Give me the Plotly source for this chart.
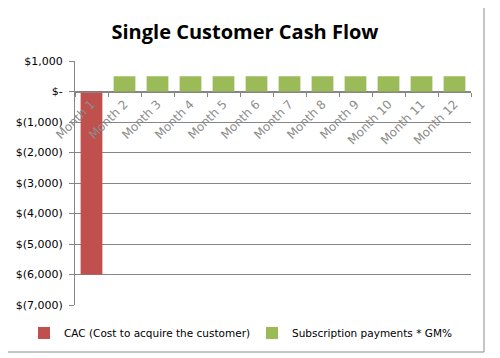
import plotly.graph_objects as go

months = ["Month 1", "Month 2", "Month 3", "Month 4", "Month 5", "Month 6",
          "Month 7", "Month 8", "Month 9", "Month 10", "Month 11", "Month 12"]
cac = [-6000, None, None, None, None, None, None, None, None, None, None, None]
subs = [None, 500, 500, 500, 500, 500, 500, 500, 500, 500, 500, 500]
ytickvals = [1000, 0, -1000, -2000, -3000, -4000, -5000, -6000, -7000]
yticktext = ["$1,000", "$-", "$(1,000)", "$(2,000)", "$(3,000)", "$(4,000)",
             "$(5,000)", "$(6,000)", "$(7,000)"]

# page body has an 8px margin; lay out in window pixels then shift
OFF = 8
W, H = 500 - OFF, 358 - OFF
PL, PR, PT, PB = 75, 471, 61, 305  # plot area in window pixels
L, R, T, B = PL - OFF, W - (PR - OFF), PT - OFF, H - (PB - OFF)
pw, ph = PR - PL, PB - PT

def px_x(x):
    return (x - PL) / pw

def px_y(y):
    return (PB - y) / ph

fig = go.Figure()
fig.add_trace(go.Bar(x=months, y=cac, name="CAC (Cost to acquire the customer)",
                     marker=dict(color="#C0504D", line=dict(width=0)), legend="legend"))
fig.add_trace(go.Bar(x=months, y=subs, name="Subscription payments * GM%",
                     marker=dict(color="#9BBB59", line=dict(width=0)), legend="legend2"))

leg_common = dict(yanchor="middle", xanchor="left", bgcolor="rgba(0,0,0,0)",
                  font=dict(size=10.5, color="black", family="DejaVu Sans"),
                  itemwidth=30, y=px_y(333))

fig.update_layout(
    width=W, height=H,
    margin=dict(l=L, r=R, t=T, b=B, autoexpand=False),
    paper_bgcolor="white", plot_bgcolor="white",
    barmode="relative", bargap=0.34,
    font=dict(family="DejaVu Sans", size=11, color="black"),
    title=dict(text="<b>Single Customer Cash Flow</b>", x=(245 - OFF) / W, xanchor="center",
               y=1 - (32 - OFF) / H, yanchor="middle",
               font=dict(family="Open Sans", size=20, color="black")),
    xaxis=dict(anchor="free", position=7 / 8, showline=True, linecolor="#868686",
               linewidth=1, ticks="outside", ticklen=4, tickcolor="#868686",
               tickson="boundaries", tickangle=-45, showgrid=False, automargin=False,
               tickfont=dict(color="#8c8c8c", size=12, family="DejaVu Sans")),
    yaxis=dict(range=[-7000, 1000], tickvals=ytickvals, ticktext=yticktext,
               showgrid=True, gridcolor="#868686", gridwidth=1, zeroline=False,
               showline=True, linecolor="#868686", ticks="outside", ticklen=5,
               tickcolor="#868686", automargin=False, ticklabelstandoff=4,
               tickfont=dict(size=11, color="black")),
    legend=dict(x=px_x(24), **leg_common),
    legend2=dict(x=px_x(252), **leg_common),
    showlegend=True,
    shapes=[dict(type="rect", xref="paper", yref="paper",
                 x0=px_x(5), x1=px_x(484), y0=px_y(352), y1=px_y(5),
                 line=dict(color="#8c8c8c", width=1), layer="below")],
)

fig.write_html("out.html")
